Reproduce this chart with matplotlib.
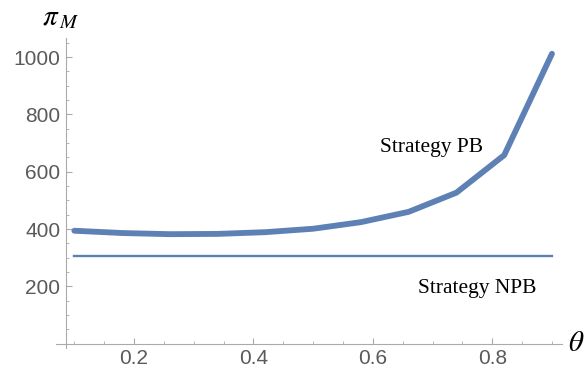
import numpy as np
import matplotlib.pyplot as plt
from matplotlib.ticker import MultipleLocator

# values
theta = [0.10, 0.18, 0.26, 0.34, 0.42, 0.50, 0.58, 0.66, 0.74, 0.82, 0.90]
profit_pb = [394, 386, 382, 383, 389, 401, 424, 460, 527, 658, 1012]
profit_npb = 307
x_ticks = [0.2, 0.4, 0.6, 0.8]
y_ticks = [200, 400, 600, 800, 1000]

plt.rcParams['mathtext.fontset'] = 'stix'
blue = '#5e81b5'
axis_gray = '#aaaaaa'
label_gray = '#5a5a5a'

fig = plt.figure(figsize=(5.87, 3.71), dpi=100)
ax = fig.add_axes([0.1124, 0.0739, 0.957 - 0.1124, 0.8976 - 0.0739])

ax.plot(theta, profit_pb, color=blue, lw=4.2, solid_capstyle='round', solid_joinstyle='miter')
ax.plot([theta[0], theta[-1]], [profit_npb, profit_npb], color=blue, lw=1.7)

ax.set_xlim(0.086, 0.9164)
ax.set_ylim(0, 1067)

ax.set_xticks(x_ticks)
ax.set_yticks(y_ticks)
ax.xaxis.set_minor_locator(MultipleLocator(0.05))
ax.yaxis.set_minor_locator(MultipleLocator(50))
ax.set_xticklabels([f'{t:.1f}' for t in x_ticks])
ax.tick_params(which='major', direction='in', length=4.5, width=0.8, color=axis_gray,
               labelsize=15, labelcolor=label_gray, pad=4)
ax.tick_params(which='minor', direction='in', length=2.5, width=0.6, color=axis_gray)
for lab in ax.get_xticklabels() + ax.get_yticklabels():
    lab.set_family('Liberation Sans')

for s in ['top', 'right']:
    ax.spines[s].set_visible(False)
for s in ['left', 'bottom']:
    ax.spines[s].set_color(axis_gray)
    ax.spines[s].set_linewidth(0.8)

# small overhang where the axes cross, as in the original
ax.plot([-0.02, 0], [0, 0], transform=ax.transAxes, color=axis_gray, lw=0.8, clip_on=False)
ax.plot([0, 0], [-0.016, 0], transform=ax.transAxes, color=axis_gray, lw=0.8, clip_on=False)

ax.text(0.699, 683, 'Strategy PB', family='Liberation Serif', fontsize=15.5, ha='center', va='center')
ax.text(0.774, 194, 'Strategy NPB', family='Liberation Serif', fontsize=15.5, ha='center', va='center')

fig.text(0.072, 0.955, r'$\pi_{\,M}$', fontsize=21, ha='left', va='center')
fig.text(0.968, 0.075, r'$\theta$', fontsize=21, ha='left', va='center')

fig.savefig('out.png', dpi=100)
